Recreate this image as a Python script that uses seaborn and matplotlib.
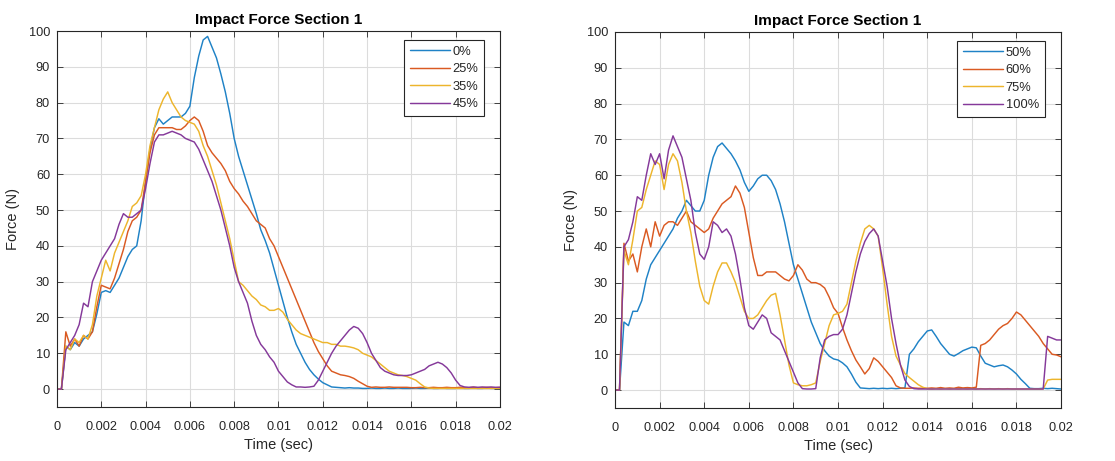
import numpy as np
import pandas as pd
import matplotlib
matplotlib.use("Agg")
import matplotlib.pyplot as plt
import seaborn as sns

# ---------------- data (time in ms, 0.2 ms grid, 0 .. 20 ms) ----------------
time_ms = [round(0.2 * i, 1) for i in range(101)]

# Left panel
left_labels = ["0%", "25%", "35%", "45%"]
f_0 = [0, 0, 12, 11, 13, 12, 14, 15, 16, 21,
       27, 27.5, 27, 29, 31, 34, 37, 39, 40, 47,
       58, 67, 73, 75.5, 74, 75, 76, 76, 76, 77,
       79, 87, 93, 97.5, 98.5, 95.5, 92.5, 88, 83, 77,
       70, 65, 61, 57, 53, 49, 44.5, 41.5, 38, 33.5,
       29, 24.5, 20, 16, 12.5, 10, 7.5, 5.5, 4, 2.8,
       1.8, 1.2, 0.6, 0.5, 0.4, 0.3, 0.4, 0.3, 0.3, 0.2,
       0.2, 0.3, 0.2, 0.2, 0.3, 0.2, 0.2, 0.3, 0.2, 0.2,
       0.2, 0.3, 0.2, 0.2, 0.3, 0.2, 0.2, 0.3, 0.2, 0.2,
       0.2, 0.3, 0.2, 0.2, 0.3, 0.2, 0.2, 0.3, 0.2, 0.2,
       0.2]
f_25 = [0, 0, 16, 12, 14, 12, 15, 14, 16, 23,
        29, 28.5, 28, 31, 35, 39, 44, 47, 48, 50,
        58, 66, 71, 73, 73, 73, 73, 72.5, 72.5, 73.5,
        75, 76, 75, 72, 68, 66, 64.5, 63, 61, 58,
        56, 54.5, 52.5, 51, 49, 47, 46, 45, 42, 40,
        37, 34, 31, 28, 25, 22, 19, 16, 13, 10.5,
        8.5, 6.5, 5, 4.5, 4, 3.8, 3.5, 3, 2.2, 1.5,
        0.8, 0.5, 0.6, 0.5, 0.5, 0.6, 0.5, 0.5, 0.5, 0.5,
        0.4, 0.4, 0.5, 0.4, 0.4, 0.5, 0.4, 0.4, 0.5, 0.4,
        0.4, 0.5, 0.4, 0.4, 0.5, 0.4, 0.4, 0.5, 0.4, 0.4,
        0.5]
f_35 = [0, 0, 12, 11, 14, 13, 15, 14, 18, 26,
        31, 36, 33, 38, 41, 44, 47, 51, 52, 54,
        60, 68, 73, 78, 81, 83, 80, 78, 76, 75,
        74.5, 74, 72, 68, 65, 61, 57, 52, 47, 42,
        36, 30, 29, 27.5, 26, 25, 23.5, 23, 22, 22,
        22.5, 21.5, 19.5, 18, 16.5, 15.5, 15, 14.5, 14, 13.5,
        13, 13, 12.5, 12.5, 12, 12, 11.8, 11.5, 11, 10,
        9.5, 9, 8, 7, 6, 5, 4.5, 4, 3.8, 3.5,
        3, 2.5, 1.5, 0.6, 0.3, 0.2, 0.2, 0.2, 0.2, 0.2,
        0.2, 0.2, 0.2, 0.2, 0.2, 0.2, 0.2, 0.2, 0.2, 0.2,
        0.2]
f_45 = [0, 0, 11, 13, 15, 18, 24, 23, 30, 33,
        36, 38, 40, 42, 46, 49, 48, 48, 49, 50,
        56, 63, 69, 71, 71, 71.5, 72, 71.5, 71, 70,
        69.5, 69, 67, 64, 61, 58, 54, 50, 45, 40,
        34, 30, 27, 24, 19, 15, 12.5, 11, 9, 7.5,
        5, 3.5, 2, 1.2, 0.6, 0.6, 0.5, 0.6, 0.8, 2.5,
        5, 7.5, 10, 12, 13.5, 15, 16.5, 17.5, 17, 15.5,
        13, 10, 8, 6, 5, 4.5, 4, 3.8, 3.8, 3.8,
        4, 4.5, 5, 5.5, 6.5, 7, 7.5, 7, 6, 4.5,
        2.5, 1, 0.6, 0.5, 0.6, 0.5, 0.6, 0.5, 0.6, 0.5,
        0.5]

# Right panel
right_labels = ["50%", "60%", "75%", "100%"]
f_50 = [0, 0, 19, 18, 22, 22, 25, 31, 35, 37,
        39, 41, 43, 45, 48, 50, 53, 51.5, 50, 50,
        53, 60, 65, 68, 69, 67.5, 66, 64, 61.5, 58,
        55.5, 57, 59, 60, 60, 58.5, 56, 52, 47, 41,
        35, 31, 27, 23, 19, 16, 13, 11, 9.5, 8.7,
        8.4, 7.6, 6.5, 4.5, 2.2, 0.6, 0.5, 0.4, 0.5, 0.4,
        0.5, 0.4, 0.5, 0.4, 0.5, 0.6, 10, 11.5, 13.5, 15,
        16.5, 16.8, 15, 13, 11.5, 10, 9.5, 10.2, 11, 11.5,
        12, 11.8, 9.5, 7.5, 7, 6.5, 6.8, 7, 6.5, 5.6,
        4.5, 3, 1.8, 0.5, 0.4, 0.4, 0.5, 0.4, 0.5, 0.4,
        0.3]
f_60 = [0, 0, 41, 36, 38, 33, 40, 45, 40, 47,
        43, 46, 47, 47, 46, 48, 50, 47, 46, 45,
        44, 45, 48, 50, 52, 53, 54, 57, 55, 51,
        44, 37, 32, 32, 33, 33, 33, 32, 31, 30.5,
        32, 35, 33.5, 31, 30, 30, 29.5, 28.5, 26, 23,
        21.4, 17.5, 14, 11, 8.4, 6.5, 4.5, 6, 9, 8,
        6.5, 5, 3.5, 1.2, 0.6, 0.5, 0.5, 0.6, 0.5, 0.5,
        0.5, 0.6, 0.5, 0.7, 0.5, 0.6, 0.5, 0.8, 0.6, 0.7,
        0.6, 0.8, 12.5, 13, 14, 15.5, 17, 18, 18.6, 20,
        21.8, 21, 19.5, 18, 16.5, 15, 13, 11.5, 10, 9.8,
        9.3]
f_75 = [0, 0, 39, 35, 42, 50, 51, 56, 60, 64,
        63, 56, 63, 66, 64, 58, 50, 44, 36, 29,
        25, 24, 29, 33, 35.5, 35.5, 33, 30, 26, 22,
        20, 20, 21, 23, 25, 26.5, 27, 21, 14, 7,
        2, 1.5, 1.2, 1.2, 1.5, 2, 8, 13, 18, 21,
        21.4, 22, 24, 30, 36, 41, 45, 46, 45, 43,
        34, 24, 15, 9.5, 7, 4.6, 3.5, 2.5, 1.5, 0.8,
        0.4, 0.3, 0.4, 0.3, 0.4, 0.3, 0.4, 0.3, 0.4, 0.3,
        0.4, 0.3, 0.4, 0.3, 0.4, 0.3, 0.4, 0.3, 0.4, 0.3,
        0.3, 0.3, 0.3, 0.3, 0.3, 0.3, 0.3, 2.8, 3, 3,
        3]
f_100 = [0, 0, 40, 42, 47, 54, 53, 60, 66, 63,
         66, 59, 67, 71, 68, 65, 59, 53, 44, 38,
         36.5, 40, 47, 46, 44, 45, 43, 38, 31, 23,
         18, 17, 19, 21, 20, 16, 15, 14, 11, 8,
         5, 2, 0.4, 0.3, 0.3, 0.4, 9, 14, 15, 15.5,
         15.5, 17, 21, 27, 33, 38, 41.5, 43.7, 45, 43,
         36, 29, 20, 13, 7, 2.8, 1, 0.4, 0.3, 0.3,
         0.3, 0.3, 0.3, 0.3, 0.3, 0.3, 0.3, 0.3, 0.3, 0.3,
         0.3, 0.3, 0.3, 0.3, 0.3, 0.3, 0.3, 0.3, 0.3, 0.3,
         0.3, 0.3, 0.3, 0.3, 0.3, 0.3, 0.3, 15, 14.5, 14,
         14]

x_ticks = [0, 0.002, 0.004, 0.006, 0.008, 0.01, 0.012, 0.014, 0.016, 0.018, 0.02]
x_tick_labels = ["0", "0.002", "0.004", "0.006", "0.008", "0.01",
                 "0.012", "0.014", "0.016", "0.018", "0.02"]
y_ticks = [0, 10, 20, 30, 40, 50, 60, 70, 80, 90, 100]

title_text = "Impact Force Section 1"
x_label = "Time (sec)"
y_label = "Force (N)"

colors = ["#1f82c6", "#da5a22", "#edb52c", "#85399a"]

# ---------------- styling ----------------
sns.set_theme(style="whitegrid")
plt.rcParams["font.family"] = ["Liberation Sans", "DejaVu Sans"]
frame_col = "#262626"


def long_frame(labels, series):
    t = np.array(time_ms) / 1000.0
    parts = []
    for lab, vals in zip(labels, series):
        parts.append(pd.DataFrame({"time": t, "force": vals, "series": lab}))
    return pd.concat(parts, ignore_index=True)


def draw(ax, labels, series):
    df = long_frame(labels, series)
    sns.lineplot(data=df, x="time", y="force", hue="series", hue_order=labels,
                 palette=colors, estimator=None, errorbar=None, sort=False,
                 linewidth=1.05, ax=ax)
    ax.set_xlim(0, 0.02)
    ax.set_ylim(-5, 100)
    ax.set_xticks(x_ticks)
    ax.set_xticklabels(x_tick_labels)
    ax.set_yticks(y_ticks)
    ax.grid(True, color="#dcdcdc", linewidth=0.8)
    ax.set_facecolor("white")
    for sp in ax.spines.values():
        sp.set_visible(True)
        sp.set_color(frame_col)
        sp.set_linewidth(0.8)
    ax.tick_params(axis="both", direction="in", length=4, width=0.6,
                   colors=frame_col, labelsize=9.2, top=True, right=True,
                   bottom=True, left=True)
    ax.tick_params(axis="x", pad=10)
    ax.tick_params(axis="y", pad=5)
    ax.set_title(title_text, fontsize=11, fontweight="bold", pad=5, color="black")
    ax.set_xlabel(x_label, fontsize=10.5, color=frame_col, labelpad=4)
    ax.set_ylabel(y_label, fontsize=10.5, color=frame_col, labelpad=6)
    leg = ax.legend(loc="upper right", bbox_to_anchor=(1 - 16 / 443, 1 - 9 / 375),
                    borderaxespad=0, fontsize=9.3, handlelength=3.1,
                    handletextpad=0.2, labelspacing=0.42, borderpad=0.45,
                    fancybox=False, framealpha=1, edgecolor=frame_col)
    leg.get_frame().set_linewidth(0.8)
    for txt in leg.get_texts():
        txt.set_color(frame_col)


fig = plt.figure(figsize=(11.15, 4.61), dpi=100)
ax1 = fig.add_axes([0.0511, 0.1171, 0.3973, 0.8156])
ax2 = fig.add_axes([0.5516, 0.1150, 0.4000, 0.8156])

draw(ax1, left_labels, [f_0, f_25, f_35, f_45])
draw(ax2, right_labels, [f_50, f_60, f_75, f_100])

fig.savefig("out.png", dpi=100, facecolor="white")
